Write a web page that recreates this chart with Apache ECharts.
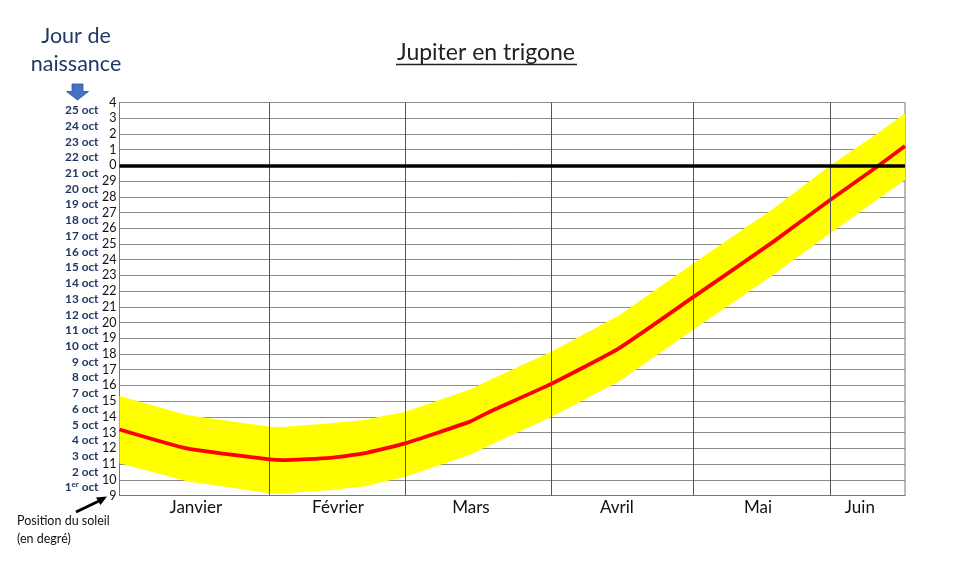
<!DOCTYPE html>
<html><head><meta charset="utf-8">
<script src="https://cdn.jsdelivr.net/npm/echarts@6/dist/echarts.min.js"></script>
<style>html,body{margin:0;padding:0;background:#fff}#c{width:979px;height:566px}</style>
</head><body><div id="c"></div>
<script>
// ---- data ----
const monthNames = ['Janvier', 'Février', 'Mars', 'Avril', 'Mai', 'Juin'];
const monthStarts = [0, 31.2, 59.5, 89.9, 119.4, 148.0];
const monthLabelPos = [15.9, 45.5, 73.2, 103.6, 133.0, 154.2];
const xEnd = 163.6;
const yMin = 9, yMax = 34, zeroLine = 30;
const dayLabels = ['1er oct', '2 oct', '3 oct', '4 oct', '5 oct', '6 oct', '7 oct', '8 oct', '9 oct',
  '10 oct', '11 oct', '12 oct', '13 oct', '14 oct', '15 oct', '16 oct', '17 oct', '18 oct', '19 oct',
  '20 oct', '21 oct', '22 oct', '23 oct', '24 oct', '25 oct'];
const days    = [0,     14,    31.3,  34,    43.9,  50.8,  59.5,  73,    77.1,  89.9,  104,   119.4, 136.2, 148,   157.7, 163.6];
const sunPos  = [13.2,  12.0,  11.3,  11.25, 11.4,  11.68, 12.32, 13.7,  14.33, 16.1,  18.36, 21.6,  25.15, 27.8,  29.9,  31.23];
const bandLow = [11.05, 9.9,   9.14,  9.12,  9.35,  9.57,  10.2,  11.6,  12.2,  14.0,  16.25, 19.53, 23.05, 25.68, 27.8,  29.07];
const bandHigh= [15.33, 14.12, 13.38, 13.35, 13.6,  13.8,  14.33, 15.75, 16.35, 18.15, 20.45, 23.75, 27.25, 30.0,  32.0,  33.31];

const FONT = 'Lato, "Open Sans", sans-serif';
const chart = echarts.init(document.getElementById('c'), null, {renderer: 'canvas'});

const option = {
  animation: false,
  backgroundColor: '#ffffff',
  grid: {left: 119.5, right: 74, top: 102.5, bottom: 70.5, show: true, borderColor: '#777', borderWidth: 1, containLabel: false},
  xAxis: {
    type: 'value', min: 0, max: xEnd,
    axisLine: {show: true, lineStyle: {color: '#777', width: 1}},
    axisTick: {show: false},
    splitLine: {show: false},
    axisLabel: {
      customValues: monthLabelPos,
      margin: 4, fontSize: 17, color: '#111', fontFamily: FONT,
      formatter: v => {
        let best = 0;
        monthLabelPos.forEach((p, i) => { if (Math.abs(p - v) < Math.abs(monthLabelPos[best] - v)) best = i; });
        return monthNames[best];
      }
    }
  },
  yAxis: [
    {
      type: 'value', min: yMin, max: yMax, interval: 1, position: 'left',
      axisLine: {show: true, lineStyle: {color: '#777', width: 1}},
      axisTick: {show: false},
      splitLine: {show: true, lineStyle: {color: '#8a8a8a', width: 1}},
      axisLabel: {margin: 3, fontSize: 12.5, color: '#111', fontFamily: FONT,
        formatter: v => String(v >= zeroLine ? v - zeroLine : v)}
    },
    {
      type: 'category', data: dayLabels, position: 'left', offset: 13, boundaryGap: true,
      axisLine: {show: false}, axisTick: {show: false}, splitLine: {show: false},
      axisLabel: {
        interval: 0, margin: 8, fontSize: 11.8, fontWeight: 'bold', color: '#1f3864', fontFamily: FONT,
        formatter: v => v.startsWith('1er') ? '1{sup|er} oct' : v,
        rich: {sup: {fontSize: 8, fontWeight: 'bold', color: '#1f3864', fontFamily: FONT, verticalAlign: 'top', padding: [0, 0, 6, 0]}}
      }
    }
  ],
  graphic: [
    {type: 'text', x: 486, y: 53, style: {text: 'Jupiter en trigone', fontSize: 23, fontFamily: FONT, fill: '#222', align: 'center', verticalAlign: 'middle'}},
    {type: 'line', shape: {x1: 396, y1: 64.5, x2: 577, y2: 64.5}, style: {stroke: '#222', lineWidth: 1.3}},
    {type: 'text', x: 76, y: 36, style: {text: 'Jour de', fontSize: 21.5, fontFamily: FONT, fill: '#1f3864', align: 'center', verticalAlign: 'middle'}},
    {type: 'text', x: 76, y: 64, style: {text: 'naissance', fontSize: 21.5, fontFamily: FONT, fill: '#1f3864', align: 'center', verticalAlign: 'middle'}},
    {type: 'polygon', shape: {points: [[72, 84], [83, 84], [83, 91.5], [88.5, 91.5], [77.5, 100], [66.5, 91.5], [72, 91.5]]},
      style: {fill: '#4472c4', stroke: '#2f528f', lineWidth: 0.8}},
    {type: 'text', x: 17, y: 521, style: {text: 'Position du soleil', fontSize: 12.5, fontFamily: FONT, fill: '#111', align: 'left', verticalAlign: 'middle'}},
    {type: 'text', x: 17, y: 539, style: {text: '(en degré)', fontSize: 12.5, fontFamily: FONT, fill: '#111', align: 'left', verticalAlign: 'middle'}},
    {type: 'line', shape: {x1: 76, y1: 512, x2: 99, y2: 501}, style: {stroke: '#000', lineWidth: 3}},
    {type: 'polygon', shape: {points: [[107, 496.5], [96, 497.5], [100.5, 505]]}, style: {fill: '#000'}}
  ],
  series: [
    {
      name: 'band', type: 'custom', z: 2, silent: true, clip: true,
      data: [[days[0], bandLow[0]]],
      renderItem: (params, api) => {
        const top = days.map((d, i) => api.coord([d, bandHigh[i]]));
        const bot = days.map((d, i) => api.coord([d, bandLow[i]])).reverse();
        return {type: 'polygon', shape: {points: top.concat(bot)}, style: {fill: '#ffff00', stroke: null}};
      }
    },
    {
      name: 'lines', type: 'line', z: 3,
      data: days.map((d, i) => [d, sunPos[i]]),
      showSymbol: false, symbol: 'none', lineStyle: {width: 0, opacity: 0}, silent: true,
      markLine: {
        silent: true, symbol: ['none', 'none'], label: {show: false}, animation: false,
        data: [
          ...monthStarts.slice(1).map(v => ({xAxis: v, lineStyle: {color: '#555', width: 1, type: 'solid'}})),
          {yAxis: zeroLine, lineStyle: {color: '#000', width: 3.5, type: 'solid'}}
        ]
      }
    },
    {
      name: 'soleil', type: 'line', z: 4,
      data: days.map((d, i) => [d, sunPos[i]]),
      showSymbol: false, symbol: 'none', smooth: 0.15,
      lineStyle: {color: '#ff0000', width: 3.8}
    }
  ]
};
chart.setOption(option);
</script>
</body></html>
